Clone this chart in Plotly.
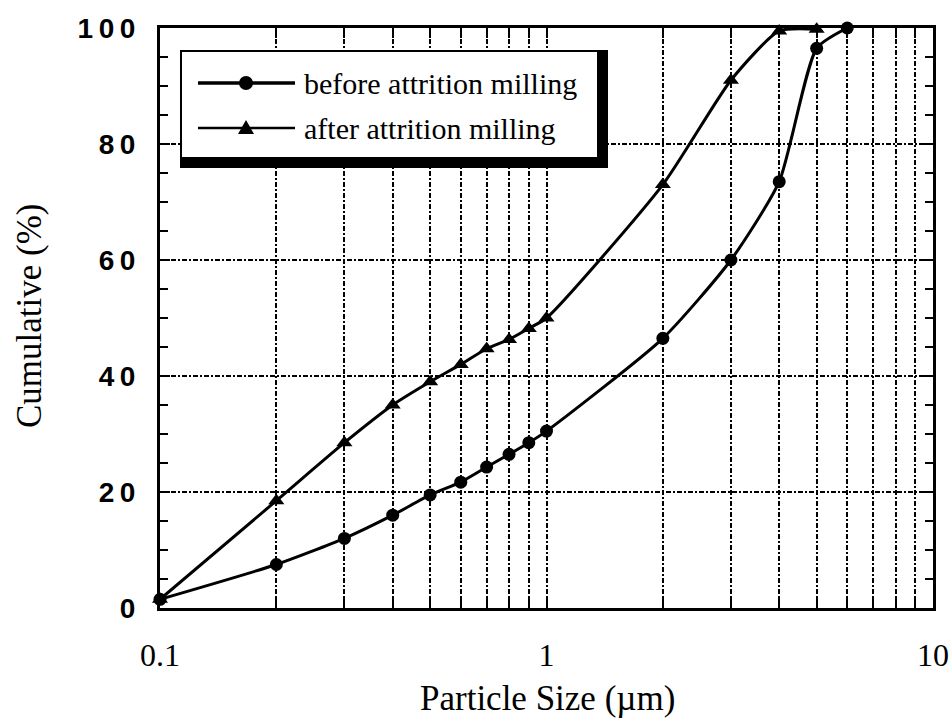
import plotly.graph_objects as go

# ---- data ----
size_um = [0.1, 0.2, 0.3, 0.4, 0.5, 0.6, 0.7, 0.8, 0.9, 1, 2, 3, 4, 5, 6]
before_milling = [1.5, 7.5, 12, 16, 19.5, 21.7, 24.3, 26.5, 28.5, 30.5, 46.5, 60, 73.5, 96.5, 100]
size_after_um = [0.1, 0.2, 0.3, 0.4, 0.5, 0.6, 0.7, 0.8, 0.9, 1, 2, 3, 4, 5]
after_milling = [1.5, 18.5, 28.5, 35, 39, 42, 44.7, 46.3, 48.2, 50, 73, 91, 99.5, 99.8]

x_tickvals = [0.1, 0.2, 0.3, 0.4, 0.5, 0.6, 0.7, 0.8, 0.9, 1, 2, 3, 4, 5, 6, 7, 8, 9, 10]
x_ticktext = ["0.1"] + [""] * 8 + ["1"] + [""] * 8 + ["10"]
y_tickvals = [0, 20, 40, 60, 80, 100]
y_ticktext = ["0", "2\u20090", "4\u20090", "6\u20090", "8\u20090", "1\u20090\u20090"]

legend_labels = ["before attrition milling", "after attrition milling"]

# ---- geometry helpers (pixel -> paper) ----
L, R, T, B = 160, 933, 28, 608
W, H = R - L, B - T
def px(x):
    return (x - L) / W
def py(y):
    return (B - y) / H

SERIF = "Liberation Serif, Times New Roman, serif"
SANS = "Liberation Sans, Arial, sans-serif"

fig = go.Figure()
fig.add_trace(go.Scatter(
    x=size_um, y=before_milling, mode="lines+markers", name=legend_labels[0],
    line=dict(color="black", width=3, shape="spline", smoothing=0.6),
    marker=dict(symbol="circle", size=13, color="black"),
    cliponaxis=False, showlegend=False))
fig.add_trace(go.Scatter(
    x=size_after_um, y=after_milling, mode="lines+markers", name=legend_labels[1],
    line=dict(color="black", width=3, shape="spline", smoothing=0.6),
    marker=dict(symbol="triangle-up", size=14, color="black"),
    cliponaxis=False, showlegend=False))

grid_dash = "5px,2px,2px,2px"
fig.update_xaxes(
    type="log", range=[-1, 1],
    tickvals=x_tickvals, ticktext=x_ticktext,
    ticks="inside", ticklen=10, tickwidth=1.5, tickcolor="black",
    showline=True, linewidth=3, linecolor="black", mirror="ticks",
    showgrid=True, gridcolor="black", gridwidth=1.6, griddash=grid_dash,
    tickfont=dict(family=SERIF, size=32, color="black"),
    ticklabelstandoff=17, zeroline=False,
)
fig.update_yaxes(
    range=[0, 100],
    tickvals=y_tickvals, ticktext=y_ticktext,
    ticks="inside", ticklen=10, tickwidth=2, tickcolor="black",
    minor=dict(dtick=5, ticks="inside", ticklen=8, tickwidth=1.5, tickcolor="black", showgrid=False),
    showline=True, linewidth=3, linecolor="black", mirror="ticks",
    showgrid=True, gridcolor="black", gridwidth=1.6, griddash=grid_dash,
    tickfont=dict(family=SANS, size=28, color="black", weight="bold"),
    ticklabelstandoff=16, zeroline=False,
)

shapes = []
# legend shadow / box
shapes.append(dict(type="rect", xref="paper", yref="paper",
                   x0=px(180), x1=px(608), y0=py(168), y1=py(50),
                   fillcolor="black", line=dict(width=0), layer="above"))
shapes.append(dict(type="rect", xref="paper", yref="paper",
                   x0=px(182), x1=px(597), y0=py(157), y1=py(52),
                   fillcolor="white", line=dict(width=0), layer="above"))
# legend lines
for yy, w in [(83, 3.5), (128, 2.5)]:
    shapes.append(dict(type="line", xref="paper", yref="paper",
                       x0=px(198), x1=px(295), y0=py(yy), y1=py(yy),
                       line=dict(color="black", width=w), layer="above"))
# legend markers
shapes.append(dict(type="circle", xref="paper", yref="paper",
                   xsizemode="pixel", ysizemode="pixel",
                   xanchor=px(246), yanchor=py(83),
                   x0=-7, x1=7, y0=-7, y1=7,
                   fillcolor="black", line=dict(width=0), layer="above"))
shapes.append(dict(type="path", xref="paper", yref="paper",
                   xsizemode="pixel", ysizemode="pixel",
                   xanchor=px(246), yanchor=py(128),
                   path="M-8,-6 L8,-6 L0,8 Z",
                   fillcolor="black", line=dict(width=0), layer="above"))

annotations = []
for yy, txt in [(83, legend_labels[0]), (128, legend_labels[1])]:
    annotations.append(dict(xref="paper", yref="paper", x=px(302), y=py(yy),
                            xanchor="left", yanchor="middle", showarrow=False,
                            text=txt, font=dict(family=SERIF, size=30, color="black")))
annotations.append(dict(xref="paper", yref="paper", x=px(547), y=py(698),
                        xanchor="center", yanchor="middle", showarrow=False,
                        text="Particle Size (\u00b5m)",
                        font=dict(family=SERIF, size=35, color="black")))
annotations.append(dict(xref="paper", yref="paper", x=px(29), y=py(316),
                        xanchor="center", yanchor="middle", showarrow=False,
                        text="Cumulative (%)", textangle=-90,
                        font=dict(family=SERIF, size=35, color="black")))

fig.update_layout(
    width=951, height=720,
    margin=dict(l=L, r=951 - R, t=T, b=720 - B, autoexpand=False),
    paper_bgcolor="white", plot_bgcolor="white",
    shapes=shapes, annotations=annotations, showlegend=False,
)

fig.write_html("out.html")
